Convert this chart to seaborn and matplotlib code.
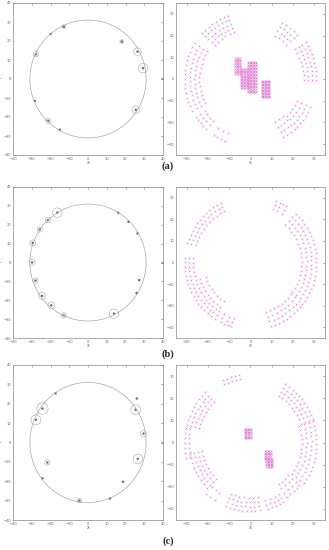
import numpy as np
import pandas as pd
import matplotlib
matplotlib.use('Agg')
import matplotlib.pyplot as plt
import seaborn as sns
from matplotlib.patches import Circle

# left panels: cluster centres (x, y) and radius of the ring drawn round them (0 = none)
a_cx = [-12.9, -19.9, -27.8, 18.0, 26.4, 29.4, -28.3, -21.2, -15.0, 25.5]
a_cy = [27.5, 23.7, 13.0, 19.7, 14.4, 5.7, -11.5, -22.0, -26.7, -16.2]
a_cr = [1.0, 0, 1.4, 1.0, 2.0, 2.5, 0, 1.4, 0, 2.0]

b_cx = [-16.4, -21.4, -25.7, -29.5, -29.8, -28.0, -24.5, -19.6, -12.9, 13.9, 16.1, 21.6, 26.4, 27.3, 25.9]
b_cy = [26.4, 22.5, 17.5, 10.4, 0.0, -9.6, -17.7, -22.7, -28.0, -27.1, 26.4, 21.6, 15.4, -9.3, -16.1]
b_cr = [2.5, 1.4, 1.4, 1.6, 1.6, 1.4, 1.8, 1.8, 1.4, 2.5, 0, 0, 0, 0, 0]

c_cx = [-17.3, -24.3, -27.8, 25.4, 26.0, 29.6, -21.7, 26.6, -24.3, 18.7, -4.6, 11.7]
c_cy = [25.4, 17.5, 11.7, 16.9, 22.7, 4.6, -10.3, -8.5, -18.5, -20.3, -30.0, -28.9]
c_cr = [0, 3.0, 2.6, 2.6, 0, 1.6, 1.4, 2.5, 0, 0, 1.2, 0]

ring_radius = 31

# right panels: arc blocks (theta start, theta end [deg], r inner, r outer, rows)
a_blocks = [(110, 137, 23, 31, 5), (148, 208, 24, 31, 4), (214, 228, 26, 31, 3),
            (236, 247, 27, 31, 2), (43, 60, 23, 30, 4), (-1, 33, 25, 31, 4),
            (-60, -48, 23, 31, 4), (-45, -25, 24, 31, 4)]
b_blocks = [(117, 163, 27, 31, 3), (176, 237, 27, 31, 3), (198, 235, 22, 25, 2),
            (243, 253, 27, 31, 3), (57, 67, 27, 31, 3), (-35, 47, 24, 31, 4),
            (-72, -38, 24, 31, 4)]
c_blocks = [(100, 115, 29, 31, 2), (133, 165, 25, 31, 4), (168, 193, 29, 31, 2),
            (190, 225, 23, 29, 4), (228, 237, 27, 31, 2), (248, 278, 25, 31, 4),
            (-75, -60, 27, 31, 3), (-55, -40, 23, 30, 4), (-36, 18, 24, 31, 4),
            (20, 58, 25, 31, 4)]

# dense central patches (x0, x1, y0, y1)
a_patches = [(-7.2, -4.5, 2.5, 9.5), (-4.5, -1.0, -4.0, 5.0), (-1.0, 2.9, -6.0, 8.0), (5.2, 9.0, -8.5, -0.5)]
b_patches = []
c_patches = [(-2.6, 0.5, 2.0, 6.6), (6.6, 9.5, -7.5, -3.4), (7.5, 10.5, -11.0, -7.5)]

panel_labels = ['(a)', '(b)', '(c)']

PINK = '#e38bd6'


def block_points(blocks, patches, step=2.1, dense=0.7):
    xs, ys = [], []
    for t0, t1, r0, r1, nrows in blocks:
        for r in np.linspace(r0, r1, nrows):
            n = max(2, int(round(np.radians(t1 - t0) * r / step)) + 1)
            t = np.radians(np.linspace(t0, t1, n))
            xs.extend(r * np.cos(t))
            ys.extend(r * np.sin(t))
    for x0, x1, y0, y1 in patches:
        gx, gy = np.meshgrid(np.arange(x0, x1 + 1e-6, dense), np.arange(y0, y1 + 1e-6, dense))
        xs.extend(gx.ravel())
        ys.extend(gy.ravel())
    return pd.DataFrame({'X': xs, 'Y': ys})


def style_axes(ax, lim, ticks):
    ax.set_xlim(-lim, lim)
    ax.set_ylim(-lim, lim)
    ax.set_xticks(ticks)
    ax.set_yticks(ticks)
    ax.tick_params(direction='in', length=1.5, width=0.4, labelsize=2.6, colors='#666666',
                   top=True, right=True, pad=1.2)
    for s in ax.spines.values():
        s.set_linewidth(0.5)
        s.set_color('#888888')
    ax.set_xlabel('X', fontsize=3, labelpad=0.5, color='#444444')
    ax.set_ylabel('Y', fontsize=3, labelpad=0.2, color='#444444', rotation=90)


def sensor_panel(ax, cx, cy, cr):
    t = np.linspace(0, 2 * np.pi, 400)
    ax.plot(ring_radius * np.cos(t), ring_radius * np.sin(t), color='#a0a0a0', lw=0.45)
    df = pd.DataFrame({'X': cx, 'Y': cy})
    sns.scatterplot(data=df, x='X', y='Y', ax=ax, color='#6a6a6a', s=3, marker='o',
                    edgecolor='none', legend=False)
    for x, y, r in zip(cx, cy, cr):
        if r > 0:
            ax.add_patch(Circle((x, y), r, fill=False, ec='#9a9a9a', lw=0.35))
    style_axes(ax, 40, np.arange(-40, 41, 10))


def grid_panel(ax, blocks, patches):
    df = block_points(blocks, patches)
    sns.scatterplot(data=df, x='X', y='Y', ax=ax, color=PINK, s=1.8, marker='x',
                    linewidth=0.35, legend=False)
    style_axes(ax, 35, np.arange(-30, 31, 10))


sns.set_style('white')
fig = plt.figure(figsize=(3.29, 5.5), dpi=100)

rows = [(3, 155), (187, 338), (365, 520)]
label_y = [166, 354, 541]
left_data = [(a_cx, a_cy, a_cr), (b_cx, b_cy, b_cr), (c_cx, c_cy, c_cr)]
right_data = [(a_blocks, a_patches), (b_blocks, b_patches), (c_blocks, c_patches)]

for i, (top, bottom) in enumerate(rows):
    y0 = (550 - bottom) / 550
    h = (bottom - top) / 550
    axl = fig.add_axes([13 / 329, y0, 150 / 329, h])
    sensor_panel(axl, *left_data[i])
    axr = fig.add_axes([176 / 329, y0, 149 / 329, h])
    grid_panel(axr, *right_data[i])
    fig.text(168 / 329, 1 - label_y[i] / 550, panel_labels[i], ha='center', va='center',
             fontsize=7.5, fontweight='bold', family='Liberation Serif')

fig.savefig('out.png', dpi=100)
